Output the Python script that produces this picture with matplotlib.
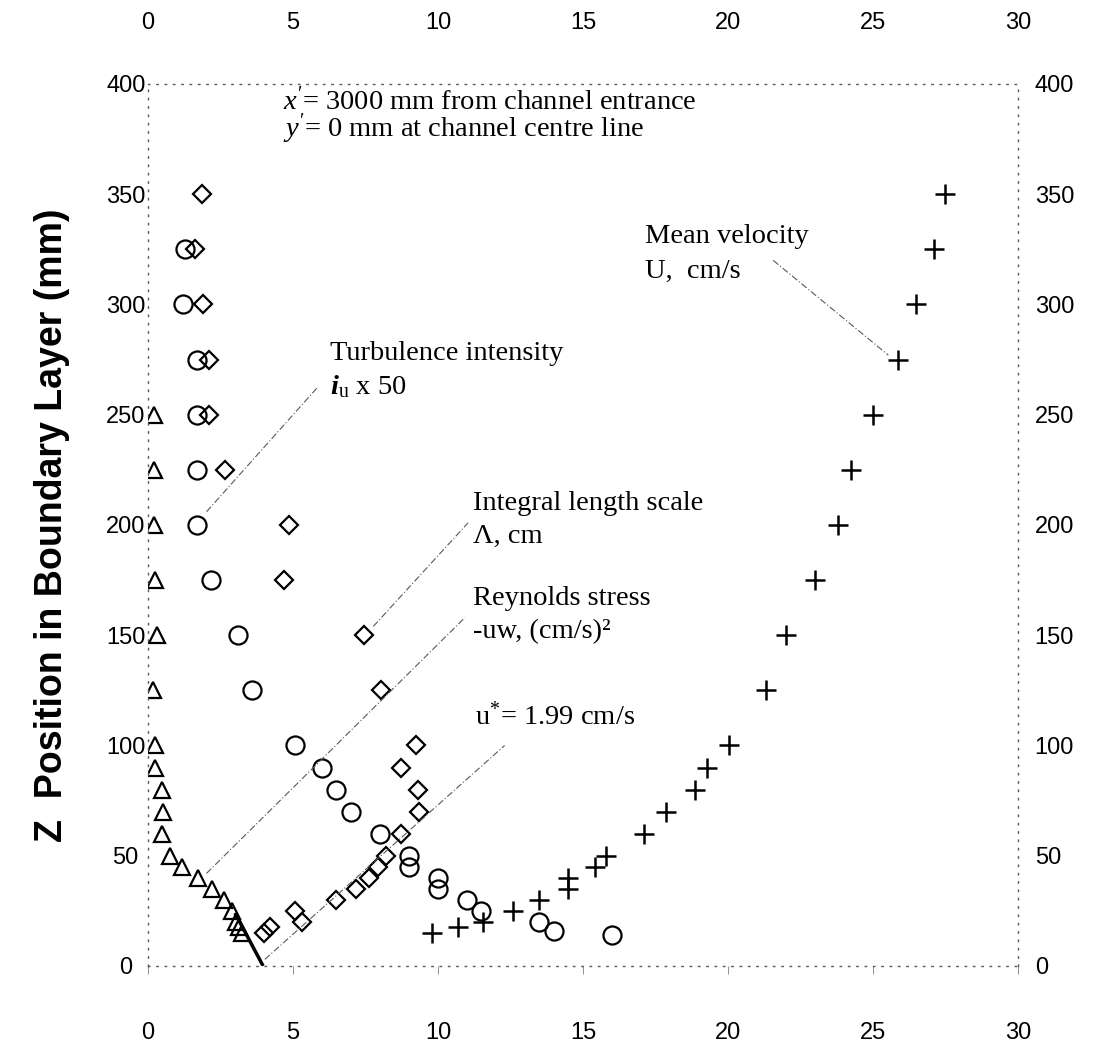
import matplotlib
matplotlib.use("Agg")
import matplotlib.pyplot as plt

plt.rcParams['mathtext.fontset'] = 'custom'
plt.rcParams['mathtext.rm'] = 'Liberation Serif'
plt.rcParams['mathtext.it'] = 'Liberation Serif:italic'
plt.rcParams['mathtext.bf'] = 'Liberation Serif:bold:italic'

# ---- data (x values in plotted units, z in mm) ----
z_U = [15, 17.5, 20, 25, 30, 35, 40, 45, 50, 60, 70, 80, 90, 100, 125, 150, 175, 200, 225, 250, 275, 300, 325, 350]
U = [9.8, 10.7, 11.55, 12.6, 13.5, 14.5, 14.5, 15.4, 15.8, 17.1, 17.85, 18.87, 19.28, 20.05, 21.3, 22.0, 23.0, 23.8, 24.24, 25.0, 25.85, 26.5, 27.1, 27.5]

z_I = [14, 16, 20, 25, 30, 35, 40, 45, 50, 60, 70, 80, 90, 100, 125, 150, 175, 200, 225, 250, 275, 300, 325]
I50 = [16.0, 14.0, 13.5, 11.5, 11.0, 10.0, 10.0, 9.0, 9.0, 8.0, 7.0, 6.5, 6.0, 5.07, 3.6, 3.12, 2.16, 1.68, 1.7, 1.7, 1.7, 1.22, 1.28]

z_L = [15, 17.5, 20, 25, 30, 35, 40, 45, 50, 60, 70, 80, 90, 100, 125, 150, 175, 200, 225, 250, 275, 300, 325, 350]
Lam = [4.0, 4.2, 5.3, 5.07, 6.5, 7.16, 7.62, 7.92, 8.21, 8.72, 9.34, 9.32, 8.72, 9.24, 8.02, 7.46, 4.7, 4.86, 2.64, 2.1, 2.1, 1.9, 1.62, 1.85]

z_R = [15, 17.5, 20, 25, 30, 35, 40, 45, 50, 60, 70, 80, 90, 100, 125, 150, 175, 200, 225, 250]
uw = [3.23, 3.14, 3.02, 2.89, 2.62, 2.2, 1.73, 1.16, 0.76, 0.47, 0.51, 0.47, 0.24, 0.24, 0.18, 0.3, 0.23, 0.2, 0.21, 0.21]

fit_x = [3.0, 3.97]
fit_z = [24, 0]

xticks = [0, 5, 10, 15, 20, 25, 30]
yticks = [0, 50, 100, 150, 200, 250, 300, 350, 400]

# leader lines: (x0, z0, x1, z1)
leaders = {
    'turb': (2.02, 206, 5.82, 262),
    'integral': (7.77, 154, 11.04, 201),
    'reynolds': (2.02, 42, 10.93, 158),
    'ustar': (4.03, 3, 12.3, 100),
    'mean': (21.56, 320, 25.53, 277),
}

fig = plt.figure(figsize=(11.2, 10.47), dpi=100)
ax = fig.add_axes([0.1321, 0.0774, 0.7768, 0.8424])
ax.set_xlim(0, 30)
ax.set_ylim(0, 400)

mk = dict(linestyle='none', markerfacecolor='none', markeredgecolor='black', markeredgewidth=1.6)
ax.plot(U, z_U, marker='+', markersize=15, color='black', linestyle='none', markeredgewidth=1.8)
ax.plot(I50, z_I, marker='o', markersize=13, **mk)
ax.plot(Lam, z_L, marker='D', markersize=9.5, **mk)
ax.plot(uw, z_R, marker='^', markersize=11, **mk)
ax.plot(fit_x, fit_z, color='black', linewidth=2.5, solid_capstyle='butt')

for k, (x0, z0, x1, z1) in leaders.items():
    ax.plot([x0, x1], [z0, z1], color='0.35', linewidth=0.8, linestyle=(0, (6, 2, 1, 2)))

tf = dict(family='Liberation Serif', fontsize=20.5, color='black', va='center', ha='left')
ax.text(4.66, 385.3, "$x'$= 3000 mm from channel entrance\n$y'$= 0 mm at channel centre line",
        linespacing=0.86, **tf)
ax.text(6.28, 270, "Turbulence intensity\n" + r"$\mathbf{i}_{\mathrm{u}}$ x 50",
        linespacing=1.37, **tf)
ax.text(11.2, 202.3, "Integral length scale\nΛ, cm", linespacing=1.46, **tf)
ax.text(11.2, 159.2, "Reynolds stress\n-uw, (cm/s)²", linespacing=1.42, **tf)
ax.text(11.28, 113.4, "u$^{*}$= 1.99 cm/s", **tf)
ax.text(17.14, 322.9, "Mean velocity\nU,  cm/s", linespacing=1.5, **tf)

for s in ax.spines.values():
    s.set_linestyle((0, (1, 5)))
    s.set_color('0.35')
    s.set_linewidth(1.0)

tick_family = 'Liberation Sans'
ax.set_xticks(xticks)
ax.set_yticks(yticks)
ax.tick_params(axis='x', direction='out', length=6, width=0.6, color='0.5', pad=34,
               labelsize=17)
ax.tick_params(axis='y', direction='out', length=0, pad=16, labelsize=17)
for lab in ax.get_yticklabels():
    lab.set_ha('center')
for lab in ax.get_xticklabels() + ax.get_yticklabels():
    lab.set_family(tick_family)

secx = ax.secondary_xaxis('top')
secx.set_xticks(xticks)
secx.tick_params(length=0, pad=36, labelsize=17)
secy = ax.secondary_yaxis('right')
secy.set_yticks(yticks)
secy.tick_params(length=0, pad=12, labelsize=17)
for sa in (secx, secy):
    for s in sa.spines.values():
        s.set_visible(False)
for lab in secx.get_xticklabels() + secy.get_yticklabels():
    lab.set_family(tick_family)

fig.text(52 / 1120, 0.4986, "Z  Position in Boundary Layer (mm)", rotation=90,
         ha='center', va='center', family='Liberation Sans', fontweight='bold', fontsize=27)

fig.savefig('out.png', dpi=100)
